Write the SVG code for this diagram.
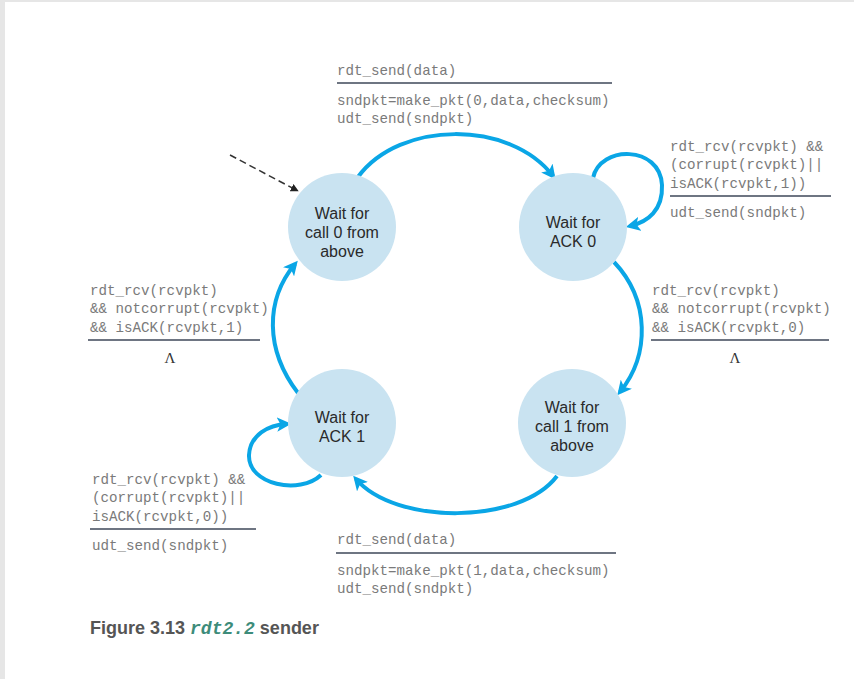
<svg xmlns="http://www.w3.org/2000/svg" width="854" height="679" viewBox="0 0 854 679">
<style>
.st circle{fill:#c9e3f1;}
.st text{font-family:"Liberation Sans",Arial,sans-serif;font-size:16px;fill:#2a2a2a;text-anchor:middle;}
.lbl{font-family:"Liberation Mono","DejaVu Sans Mono",monospace;font-size:14.2px;fill:#7a7a7a;}
.bar{stroke:#6e7582;stroke-width:2;}
.lam{font-family:"Liberation Serif",serif;font-size:15px;fill:#333;text-anchor:middle;}
.arc{fill:none;stroke:#0aa6e6;stroke-width:4;marker-end:url(#ah);}
</style>
<defs>
<marker id="ah" viewBox="0 0 10 10" refX="7" refY="5" markerWidth="3.6" markerHeight="3.6" orient="auto">
<path d="M0,0 L10,5 L0,10 L2.5,5 z" fill="#0aa6e6"/>
</marker>
<marker id="dh" viewBox="0 0 10 10" refX="9" refY="5" markerWidth="8" markerHeight="8" markerUnits="userSpaceOnUse" orient="auto">
<path d="M0,0 L10,5 L0,10 z" fill="#222"/>
</marker>
</defs>
<rect x="0" y="0" width="854" height="679" fill="#e6e6e6"/>
<rect x="5" y="2" width="849" height="677" fill="#ffffff"/>

<g id="connectors">
<path class="arc" d="M358,177 C400,120 510,120 553,176"/>
<path class="arc" d="M614,262 C650,300 650,355 620,392"/>
<path class="arc" d="M557,476 C520,525 395,525 356,479"/>
<path class="arc" d="M298,393 C265,350 265,300 295,264"/>
<path class="arc" d="M593,178 C600,145 660,145 662,185 C663,210 648,222 630,226"/>
<path class="arc" d="M321,475 C300,495 248,485 249,455 C250,435 268,425 287,424"/>
<path d="M230,155 L298,191" fill="none" stroke="#333" stroke-width="1.5" stroke-dasharray="7,4" marker-end="url(#dh)"/>
</g>

<g id="s_call0" class="st">
<circle cx="342" cy="227" r="54"/>
<text x="342" y="219">Wait for</text>
<text x="342" y="238">call 0 from</text>
<text x="342" y="257">above</text>
</g>
<g id="s_ack0" class="st">
<circle cx="573" cy="227" r="54"/>
<text x="573" y="228">Wait for</text>
<text x="573" y="247">ACK 0</text>
</g>
<g id="s_ack1" class="st">
<circle cx="342" cy="423" r="54"/>
<text x="342" y="423">Wait for</text>
<text x="342" y="442">ACK 1</text>
</g>
<g id="s_call1" class="st">
<circle cx="572" cy="423" r="54"/>
<text x="572" y="413">Wait for</text>
<text x="572" y="432">call 1 from</text>
<text x="572" y="451">above</text>
</g>

<g id="lbl_top">
<text class="lbl" x="337" y="75">rdt_send(data)</text>
<line class="bar" x1="337" y1="83" x2="612" y2="83"/>
<text class="lbl" x="337" y="105">sndpkt=make_pkt(0,data,checksum)</text>
<text class="lbl" x="337" y="123">udt_send(sndpkt)</text>
</g>
<g id="lbl_ack0_loop">
<text class="lbl" x="670" y="151">rdt_rcv(rcvpkt) &amp;&amp;</text>
<text class="lbl" x="670" y="169">(corrupt(rcvpkt)||</text>
<text class="lbl" x="670" y="188">isACK(rcvpkt,1))</text>
<line class="bar" x1="670" y1="196" x2="831" y2="196"/>
<text class="lbl" x="670" y="217">udt_send(sndpkt)</text>
</g>
<g id="lbl_left">
<text class="lbl" x="90" y="295">rdt_rcv(rcvpkt)</text>
<text class="lbl" x="90" y="313">&amp;&amp; notcorrupt(rcvpkt)</text>
<text class="lbl" x="90" y="332">&amp;&amp; isACK(rcvpkt,1)</text>
<line class="bar" x1="88" y1="340" x2="260" y2="340"/>
<text class="lam" x="170" y="363">Λ</text>
</g>
<g id="lbl_right">
<text class="lbl" x="652" y="295">rdt_rcv(rcvpkt)</text>
<text class="lbl" x="652" y="313">&amp;&amp; notcorrupt(rcvpkt)</text>
<text class="lbl" x="652" y="332">&amp;&amp; isACK(rcvpkt,0)</text>
<line class="bar" x1="651" y1="340" x2="829" y2="340"/>
<text class="lam" x="735" y="363">Λ</text>
</g>
<g id="lbl_ack1_loop">
<text class="lbl" x="92" y="484">rdt_rcv(rcvpkt) &amp;&amp;</text>
<text class="lbl" x="92" y="502">(corrupt(rcvpkt)||</text>
<text class="lbl" x="92" y="521">isACK(rcvpkt,0))</text>
<line class="bar" x1="90" y1="529" x2="256" y2="529"/>
<text class="lbl" x="92" y="550">udt_send(sndpkt)</text>
</g>
<g id="lbl_bottom">
<text class="lbl" x="337" y="544">rdt_send(data)</text>
<line class="bar" x1="336" y1="553" x2="616" y2="553"/>
<text class="lbl" x="337" y="575">sndpkt=make_pkt(1,data,checksum)</text>
<text class="lbl" x="337" y="593">udt_send(sndpkt)</text>
</g>

<text x="90" y="634" font-family="'Liberation Sans',Arial,sans-serif" font-size="18" font-weight="bold" fill="#555">Figure 3.13 <tspan font-family="'Liberation Mono',monospace" font-style="italic" fill="#3d8c7a" font-size="18">rdt2.2</tspan> sender</text>
</svg>
